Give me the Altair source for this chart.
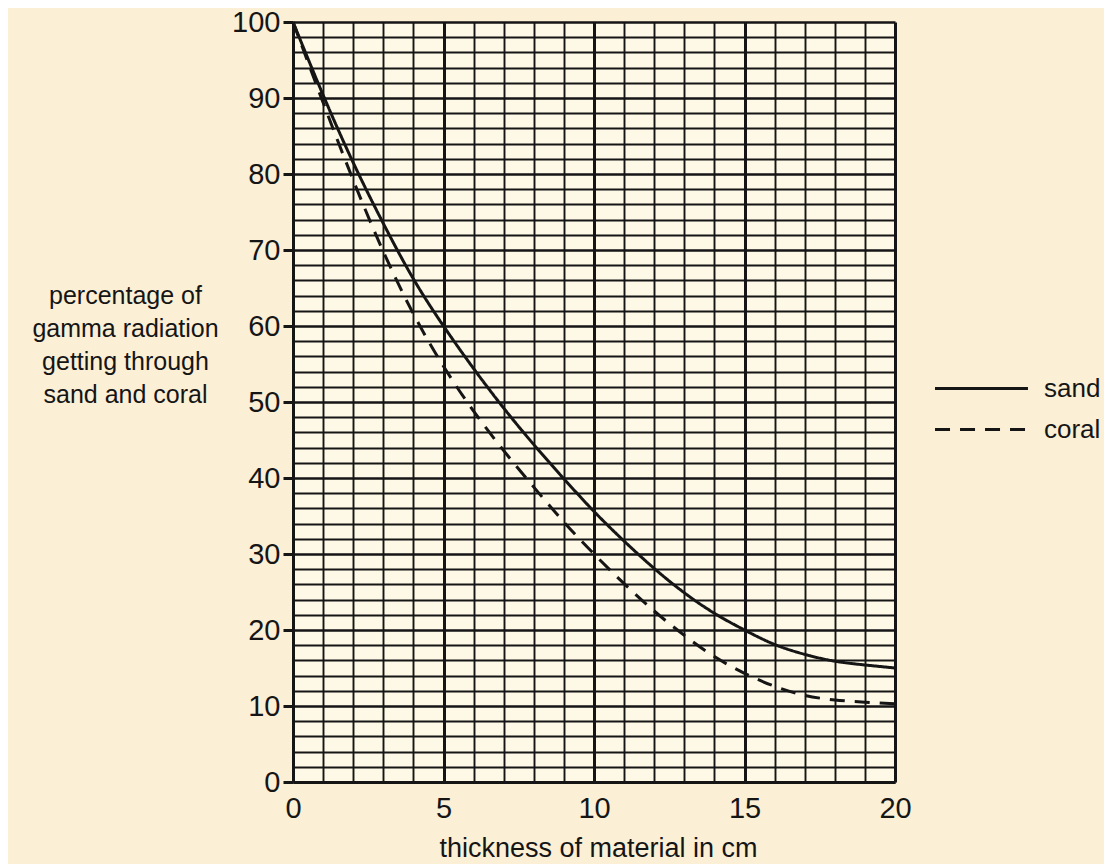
import altair as alt
import pandas as pd

# ---- data ----
thickness = list(range(0, 21))
sand = [100, 90.4, 81.5, 73.5, 66.2, 60, 54.4, 49.2, 44.4, 39.9, 35.6, 31.7, 28.1, 24.9, 22.2, 20, 18.1, 16.8, 15.9, 15.4, 15]
coral = [100, 89.4, 79.2, 69.8, 61.6, 54.7, 48.8, 43.6, 38.8, 34.2, 30, 26.1, 22.5, 19.3, 16.5, 14.3, 12.6, 11.4, 10.8, 10.5, 10.3]
materials = ["sand", "coral"]
x_ticks = list(range(0, 21, 1))
y_ticks = list(range(0, 101, 2))
x_title = "thickness of material in cm"
y_title = ["percentage of", "gamma radiation", "getting through", "sand and coral"]

rows = []
for i, t in enumerate(thickness):
    rows.append({"thickness": t, "percent": sand[i], "material": "sand"})
    rows.append({"thickness": t, "percent": coral[i], "material": "coral"})
df = pd.DataFrame(rows)

FONT = "Liberation Sans, Arial, Helvetica, sans-serif"
INK = "#151515"

x_axis = alt.Axis(
    values=x_ticks,
    grid=True,
    gridColor=INK,
    gridOpacity=1,
    gridWidth={"condition": {"test": "datum.value % 5 === 0", "value": 3}, "value": 1.9},
    ticks=False,
    tickSize=0,
    domain=True,
    domainColor=INK,
    domainWidth=3,
    labelExpr="datum.value % 5 === 0 ? datum.label : ''",
    labelFont=FONT,
    labelFontSize=29,
    labelColor=INK,
    labelPadding=12,
    labelOverlap=False,
    labelFlush=False,
    title=x_title,
    titleFont=FONT,
    titleFontSize=27,
    titleFontWeight="normal",
    titleColor=INK,
    titleAlign="center",
    titleBaseline="alphabetic",
    titleX=305,
    titleY=74,
)

y_axis = alt.Axis(
    values=y_ticks,
    grid=True,
    gridColor=INK,
    gridOpacity=1,
    gridWidth={"condition": {"test": "datum.value % 10 === 0", "value": 2.5}, "value": 1.9},
    ticks=True,
    tickSize=10,
    tickWidth=3,
    tickColor=INK,
    tickOpacity={"condition": {"test": "datum.value % 10 === 0", "value": 1}, "value": 0},
    domain=True,
    domainColor=INK,
    domainWidth=3,
    labelExpr="datum.value % 10 === 0 ? datum.label : ''",
    labelFont=FONT,
    labelFontSize=29,
    labelColor=INK,
    labelPadding=3,
    labelOverlap=False,
    labelFlush=False,
    title=y_title,
    titleFont=FONT,
    titleFontSize=25,
    titleFontWeight="normal",
    titleColor=INK,
    titleAngle=0,
    titleAlign="center",
    titleBaseline="alphabetic",
    titleLineHeight=33.3,
    titleX=-168,
    titleY=281,
)

legend = alt.Legend(
    orient="none",
    legendX=675,
    legendY=353,
    title=None,
    padding=0,
    symbolType="M-4,0H4",
    symbolSize=540,
    symbolStrokeWidth=3,
    symbolStrokeColor=INK,
    symbolFillColor="transparent",
    labelFont=FONT,
    labelFontSize=26,
    labelColor=INK,
    labelOffset=49,
    rowPadding=14,
    labelLimit=0,
)

chart = (
    alt.Chart(df)
    .mark_line(color=INK, strokeWidth=3, interpolate="natural")
    .encode(
        x=alt.X("thickness:Q", scale=alt.Scale(domain=[0, 20], nice=False, zero=False), axis=x_axis),
        y=alt.Y("percent:Q", scale=alt.Scale(domain=[0, 100], nice=False), axis=y_axis),
        strokeDash=alt.StrokeDash(
            "material:N",
            scale=alt.Scale(domain=materials, range=[[1, 0], [15, 10]]),
            legend=legend,
        ),
    )
    .properties(
        width=602,
        height=760,
        background="#fbefd6",
        padding={"left": 285, "top": 14, "right": 209, "bottom": 82},
        autosize=alt.AutoSizeParams(type="none"),
    )
    .configure_view(fill="#fef8e6", stroke=None)
)

chart.save("out.html", embed_options={"renderer": "svg", "actions": False})
